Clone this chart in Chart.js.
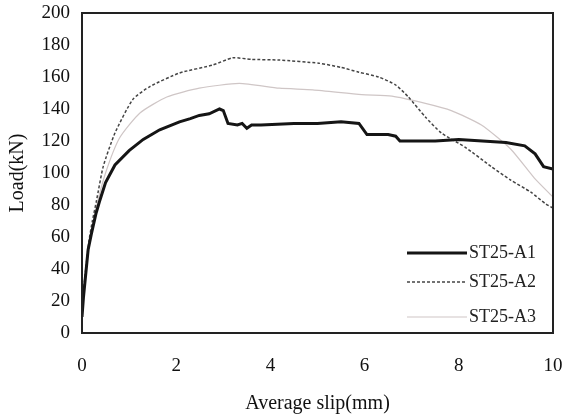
<!DOCTYPE html>
<html>
<head>
<meta charset="utf-8">
<script src="https://cdn.jsdelivr.net/npm/chart.js@4/dist/chart.umd.min.js"></script>
<style>
  html, body { margin: 0; padding: 0; background: #fff; }
  #wrap { width: 565px; height: 420px; position: relative; }
</style>
</head>
<body>
<div id="wrap"><canvas id="slipChart"></canvas></div>
<script>
// load–slip data
const seriesNames = ['ST25-A1', 'ST25-A2', 'ST25-A3'];

const slipA1 = [0, 0.03, 0.06, 0.13, 0.2, 0.3, 0.38, 0.5, 0.7, 1.0, 1.3, 1.65, 2.07, 2.3, 2.49, 2.7, 2.92, 3.0, 3.1, 3.3, 3.4, 3.5, 3.6, 3.8, 4.5, 5.0, 5.5, 5.88, 6.05, 6.5, 6.66, 6.75, 7.5, 8.0, 8.5, 9.0, 9.4, 9.62, 9.8, 10.0];
const loadA1 = [10, 22, 31, 52, 62, 75, 83, 94, 105, 114, 121, 127, 132, 134, 136, 137, 140, 139, 131, 130, 131, 128, 130, 130, 131, 131, 132, 131, 124, 124, 123, 120, 120, 121, 120, 119, 117, 112, 104, 102.5];

const slipA2 = [0, 0.03, 0.08, 0.15, 0.22, 0.31, 0.45, 0.7, 1.08, 1.44, 2.07, 2.78, 3.2, 3.6, 4.19, 5.03, 5.5, 5.88, 6.3, 6.66, 6.93, 7.29, 7.63, 8.14, 8.69, 9.1, 9.53, 9.83, 10];
const loadA2 = [10, 25, 40, 58, 70, 83, 104, 125, 146, 154, 162.5, 167.5, 172, 171, 170.6, 168.6, 166, 163, 160, 155, 147.5, 135, 125, 116, 104, 95.6, 88, 81, 78];

const slipA3 = [0, 0.05, 0.15, 0.3, 0.5, 0.8, 1.23, 1.8, 2.49, 3.34, 4.19, 4.9, 5.94, 6.58, 7.29, 7.84, 8.48, 9.1, 9.6, 10];
const loadA3 = [10, 28, 55, 78, 100, 122, 137.5, 147.5, 153, 156, 153, 152, 149, 148, 143.5, 139, 130, 115, 97, 85];

const xTicks = [0, 2, 4, 6, 8, 10];
const yTicks = [0, 20, 40, 60, 80, 100, 120, 140, 160, 180, 200];

function toPoints(xs, ys) {
    return xs.map(function(x, i) { return { x: x, y: ys[i] }; });
}

const FONT = '"Liberation Serif", "Times New Roman", serif';

// box around the plot area
const frame = {
    id: 'frame',
    afterDatasetsDraw: function(chart) {
        const a = chart.chartArea, ctx = chart.ctx;
        ctx.save();
        ctx.strokeStyle = '#222';
        ctx.lineWidth = 2;
        ctx.strokeRect(a.left, a.top, a.right - a.left, a.bottom - a.top);
        ctx.restore();
    }
};

// legend drawn inside the plot, bottom right
const insideLegend = {
    id: 'insideLegend',
    afterDraw: function(chart) {
        const ctx = chart.ctx, a = chart.chartArea;
        const rows = [253, 282, 317];
        ctx.save();
        ctx.font = '18px ' + FONT;
        ctx.textBaseline = 'middle';
        chart.data.datasets.forEach(function(ds, i) {
            const y = rows[i];
            ctx.beginPath();
            ctx.strokeStyle = ds.borderColor;
            ctx.lineWidth = ds.borderWidth;
            ctx.setLineDash(ds.borderDash || []);
            ctx.moveTo(a.right - 146, y);
            ctx.lineTo(a.right - 86, y);
            ctx.stroke();
            ctx.setLineDash([]);
            ctx.fillStyle = '#222';
            ctx.fillText(ds.label, a.right - 84, y);
        });
        ctx.restore();
    }
};

new Chart(document.getElementById('slipChart').getContext('2d'), {
    type: 'line',
    data: {
        datasets: [{
            label: seriesNames[0],
            data: toPoints(slipA1, loadA1),
            borderColor: '#151515',
            borderWidth: 3,
            pointRadius: 0,
            tension: 0
        }, {
            label: seriesNames[1],
            data: toPoints(slipA2, loadA2),
            borderColor: '#444',
            borderWidth: 1.5,
            borderDash: [3, 2],
            pointRadius: 0,
            tension: 0.2
        }, {
            label: seriesNames[2],
            data: toPoints(slipA3, loadA3),
            borderColor: '#cfc6c6',
            borderWidth: 1.2,
            pointRadius: 0,
            tension: 0.2
        }]
    },
    options: {
        responsive: true,
        maintainAspectRatio: false,
        animation: false,
        layout: { padding: { top: 13, right: 12, left: 0, bottom: 0 } },
        plugins: {
            legend: { display: false },
            tooltip: { enabled: false }
        },
        scales: {
            x: {
                type: 'linear',
                min: 0,
                max: 10,
                afterBuildTicks: function(axis) {
                    axis.ticks = xTicks.map(function(v) { return { value: v }; });
                },
                afterFit: function(axis) {
                    axis.height = 87;
                    axis.paddingLeft = 0;
                    axis.paddingRight = 0;
                },
                grid: { display: false, drawTicks: false },
                border: { display: false },
                ticks: {
                    padding: 22,
                    color: '#111',
                    font: { family: FONT, size: 19 }
                },
                title: {
                    display: true,
                    text: 'Average slip(mm)',
                    color: '#111',
                    font: { family: FONT, size: 20 },
                    padding: { top: 8 }
                }
            },
            y: {
                min: 0,
                max: 200,
                afterBuildTicks: function(axis) {
                    axis.ticks = yTicks.map(function(v) { return { value: v }; });
                },
                afterFit: function(axis) {
                    axis.width = 82;
                    axis.paddingTop = 0;
                    axis.paddingBottom = 0;
                },
                grid: { display: false, drawTicks: false },
                border: { display: false },
                ticks: {
                    padding: 12,
                    color: '#111',
                    font: { family: FONT, size: 19 }
                },
                title: {
                    display: true,
                    text: 'Load(kN)',
                    color: '#111',
                    font: { family: FONT, size: 20 },
                    padding: { top: 6, bottom: 0 }
                }
            }
        }
    },
    plugins: [frame, insideLegend]
});
</script>
</body>
</html>
